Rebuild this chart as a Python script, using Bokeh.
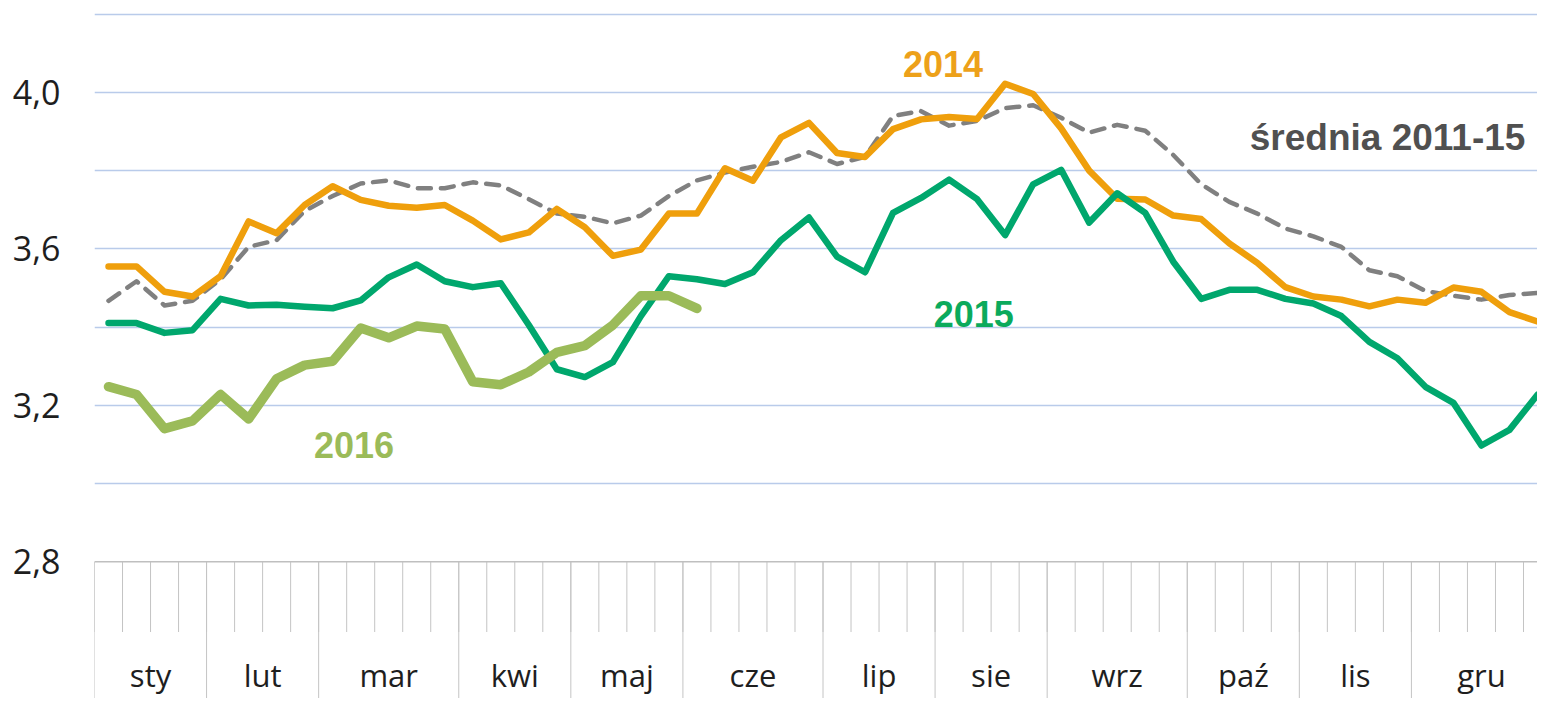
from bokeh.plotting import figure
from bokeh.models import Range1d, FixedTicker, CustomJSTickFormatter, Span
from bokeh.core.properties import value
from bokeh.embed import file_html
from bokeh.resources import INLINE

# ---- data ----
months = ["sty", "lut", "mar", "kwi", "maj", "cze", "lip", "sie", "wrz", "paź", "lis", "gru"]
weeks_per_month = [4, 4, 5, 4, 4, 5, 4, 4, 5, 4, 4, 5]

y2014 = [3.555, 3.555, 3.49, 3.478, 3.53, 3.67, 3.64, 3.712, 3.76, 3.725,
         3.71, 3.705, 3.712, 3.672, 3.624, 3.642, 3.702, 3.655, 3.582, 3.598,
         3.69, 3.69, 3.806, 3.774, 3.885, 3.922, 3.845, 3.835, 3.906, 3.931,
         3.937, 3.932, 4.022, 3.996, 3.908, 3.8, 3.728, 3.726, 3.685, 3.676,
         3.614, 3.564, 3.502, 3.478, 3.47, 3.453, 3.47, 3.462, 3.501, 3.49,
         3.438, 3.414]

y2015 = [3.41, 3.41, 3.385, 3.392, 3.472, 3.455, 3.457, 3.452, 3.448, 3.468,
         3.527, 3.56, 3.517, 3.502, 3.512, 3.405, 3.292, 3.272, 3.31, 3.428,
         3.53, 3.522, 3.51, 3.54, 3.622, 3.68, 3.58, 3.54, 3.692, 3.73,
         3.777, 3.727, 3.635, 3.765, 3.802, 3.667, 3.742, 3.692, 3.567, 3.472,
         3.495, 3.495, 3.472, 3.46, 3.428, 3.362, 3.32, 3.247, 3.206, 3.097,
         3.137, 3.227]

y2016 = [3.2475, 3.2275, 3.14, 3.16, 3.2275, 3.165, 3.2675, 3.3025, 3.3125, 3.3975,
         3.3725, 3.4025, 3.395, 3.26, 3.2525, 3.285, 3.335, 3.3525, 3.405, 3.48,
         3.48, 3.4475]

y_avg = [3.467, 3.517, 3.455, 3.467, 3.522, 3.605, 3.622, 3.697, 3.735, 3.767,
         3.775, 3.755, 3.755, 3.77, 3.762, 3.727, 3.69, 3.682, 3.665, 3.685,
         3.735, 3.775, 3.795, 3.81, 3.822, 3.847, 3.817, 3.835, 3.94, 3.952,
         3.915, 3.927, 3.96, 3.967, 3.935, 3.897, 3.917, 3.902, 3.84, 3.765,
         3.72, 3.69, 3.652, 3.632, 3.605, 3.545, 3.53, 3.492, 3.48, 3.47,
         3.482, 3.487]

y_label_ticks = [2.8, 3.2, 3.6, 4.0]
grid_ticks = [3.0, 3.2, 3.4, 3.6, 3.8, 4.0, 4.2]

# ---- figure ----
n_weeks = sum(weeks_per_month)
p = figure(width=1537, height=698,
           x_range=Range1d(0, 51.5), y_range=Range1d(2.45, 4.235),
           output_backend="svg", toolbar_location=None, x_axis_location=None,
           min_border_left=94, min_border_right=0, min_border_top=0, min_border_bottom=0)
p.outline_line_color = None
p.background_fill_color = "white"
p.border_fill_color = "white"

p.xgrid.visible = False
p.ygrid.ticker = FixedTicker(ticks=grid_ticks)
p.ygrid.grid_line_color = "#B9CBEA"
p.ygrid.grid_line_width = 1.5

ax = p.yaxis[0]
ax.ticker = FixedTicker(ticks=y_label_ticks)
ax.formatter = CustomJSTickFormatter(code="return tick.toFixed(1).replace('.', ',');")
ax.axis_line_color = None
ax.major_tick_line_color = None
ax.minor_tick_line_color = None
ax.major_tick_out = 0
ax.major_tick_in = 0
ax.major_label_standoff = 34
ax.major_label_text_font = "Open Sans"
ax.major_label_text_font_size = "34px"
ax.major_label_text_color = "#1E1E1E"

# category axis line
p.add_layout(Span(location=2.8, dimension="width", line_color="#BFBFBF", line_width=1.5))

# week tick marks and month separators
week_edges = list(range(0, n_weeks + 1))
p.segment(x0=week_edges, y0=[2.8] * len(week_edges), x1=week_edges, y1=[2.62] * len(week_edges),
          line_color="#C4C4C4", line_width=1)
month_edges = [0]
for w in weeks_per_month:
    month_edges.append(month_edges[-1] + w)
p.segment(x0=month_edges, y0=[2.8] * len(month_edges), x1=month_edges, y1=[2.3] * len(month_edges),
          line_color="#C4C4C4", line_width=1)
month_centers = [(month_edges[i] + month_edges[i + 1]) / 2 for i in range(len(months))]
p.text(x=month_centers, y=[2.511] * len(months), text=months,
       text_align="center", text_baseline="alphabetic",
       text_font=value("Open Sans"), text_font_size="31px", text_color="#1E1E1E")

# ---- series ----
def xs(vals):
    return [i + 0.5 for i in range(len(vals))]

p.line(xs(y_avg), y_avg, line_color="#808080", line_width=4.5, line_dash="13 10",
       line_cap="round", line_join="round")
p.line(xs(y2014), y2014, line_color="#EF9F0C", line_width=6.5, line_join="round", line_cap="round")
p.line(xs(y2015), y2015, line_color="#00A76D", line_width=6.5, line_join="round", line_cap="round")
p.line(xs(y2016), y2016, line_color="#9BBB59", line_width=9.5, line_join="round", line_cap="round")

# ---- series labels ----
lab_font = value("Liberation Sans")
p.text(x=[30.28], y=[4.0735], text=["2014"], text_align="center", text_baseline="alphabetic",
       text_font=lab_font, text_font_style="bold", text_font_size="36px", text_color="#EDA11A")
p.text(x=[46.15], y=[3.8835], text=["średnia 2011-15"], text_align="center", text_baseline="alphabetic",
       text_font=lab_font, text_font_style="bold", text_font_size="37px", text_color="#505050")
p.text(x=[31.38], y=[3.4335], text=["2015"], text_align="center", text_baseline="alphabetic",
       text_font=lab_font, text_font_style="bold", text_font_size="36px", text_color="#0BAA5C")
p.text(x=[9.26], y=[3.0985], text=["2016"], text_align="center", text_baseline="alphabetic",
       text_font=lab_font, text_font_style="bold", text_font_size="36px", text_color="#9BBB59")

open("out.html", "w").write(file_html(p, INLINE))
